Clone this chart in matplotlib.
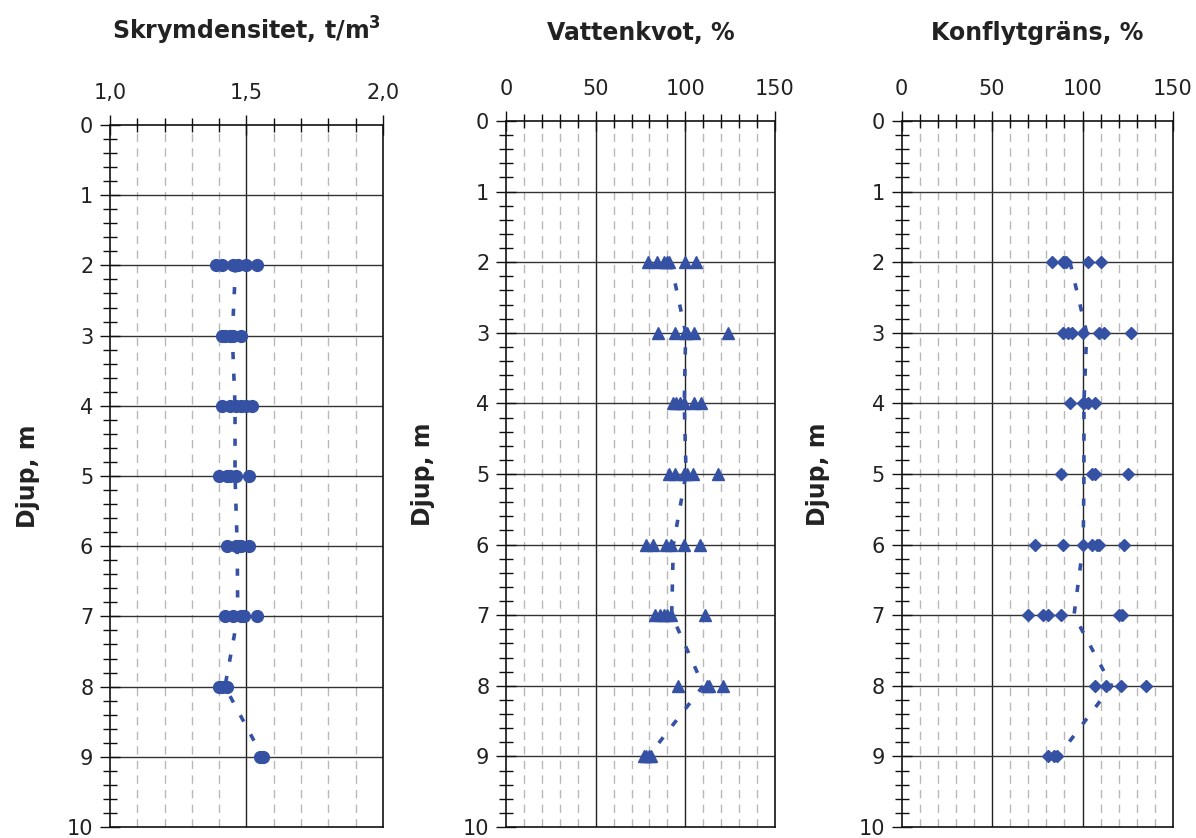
import matplotlib
matplotlib.use("Agg")
import matplotlib.pyplot as plt
from matplotlib.ticker import MultipleLocator, FuncFormatter

plt.rcParams["font.family"] = ["DejaVu Sans"]

# depth (m) of each sample level
depths = [2, 3, 4, 5, 6, 7, 8, 9]

# Skrymdensitet, t/m3 (one list per depth)
density = [
    [1.39, 1.41, 1.45, 1.47, 1.50, 1.54],
    [1.41, 1.42, 1.44, 1.45, 1.48],
    [1.41, 1.44, 1.46, 1.48, 1.50, 1.52],
    [1.40, 1.43, 1.44, 1.46, 1.51],
    [1.43, 1.46, 1.47, 1.48, 1.51],
    [1.42, 1.45, 1.48, 1.49, 1.54],
    [1.40, 1.41, 1.43],
    [1.55, 1.56],
]
density_trend = [1.46, 1.448, 1.458, 1.458, 1.466, 1.468, 1.421, 1.559]

# Vattenkvot, %
water = [
    [79, 84, 88, 90, 91, 100, 106],
    [85, 94, 100, 101, 105, 124],
    [93, 95, 97, 99, 105, 109],
    [91, 94, 99, 101, 104, 118],
    [78, 82, 89, 92, 99, 108],
    [83, 86, 88, 90, 92, 111],
    [96, 112, 113, 121],
    [77, 78, 80, 81],
]
water_trend = [91.8, 100.2, 99.4, 100.4, 93.3, 92.4, 110.0, 79.4]

# Konflytgräns, %
liquid = [
    [83, 89, 90, 91, 103, 110],
    [89, 92, 94, 100, 109, 112, 127],
    [93, 100, 101, 103, 107],
    [88, 105, 107, 125],
    [74, 89, 100, 105, 108, 109, 123],
    [70, 78, 81, 88, 120, 122],
    [107, 113, 121, 135],
    [81, 84, 86],
]
liquid_trend = [93.1, 102.3, 100.8, 100.8, 100.4, 95.3, 116.1, 86.6]

blue = "#3551A4"
W, H = 1196, 838

panels = [
    dict(title="Skrymdensitet, t/m$^\\mathbf{3}$", values=density, trend=density_trend,
         xlim=(1.0, 2.0), major=0.5, minor=0.1, marker="o", ms=8.5,
         fmt=lambda v, p: f"{v:.1f}".replace(".", ","),
         px=(110, 383, 125, 827), ylab_x=-0.256),
    dict(title="Vattenkvot, %", values=water, trend=water_trend,
         xlim=(0, 150), major=50, minor=10, marker="^", ms=8.5,
         fmt=lambda v, p: f"{v:.0f}",
         px=(506, 775, 121, 827), ylab_x=-0.264),
    dict(title="Konflytgräns, %", values=liquid, trend=liquid_trend,
         xlim=(0, 150), major=50, minor=10, marker="D", ms=6.5,
         fmt=lambda v, p: f"{v:.0f}",
         px=(901.5, 1173, 121, 827), ylab_x=-0.263),
]

fig = plt.figure(figsize=(W / 100, H / 100), dpi=100)

for p in panels:
    x0, x1, y0, y1 = p["px"]
    ax = fig.add_axes([x0 / W, 1 - y1 / H, (x1 - x0) / W, (y1 - y0) / H])
    ax.set_xlim(*p["xlim"])
    ax.set_ylim(10, 0)

    # grid: dashed light lines at the minor x positions, solid at majors
    lo, hi = p["xlim"]
    n = int(round((hi - lo) / p["minor"]))
    step = int(round(p["major"] / p["minor"]))
    for k in range(1, n):
        xv = lo + k * p["minor"]
        if k % step == 0:
            ax.axvline(xv, color="#222222", lw=1.0, zorder=1)
        else:
            ax.axvline(xv, color="#b8b8b8", lw=1.0, ls=(0, (6, 4.5)), zorder=1)
    for yv in range(1, 10):
        ax.axhline(yv, color="#333333", lw=1.0, zorder=1)

    for d, vals in zip(depths, p["values"]):
        ax.plot(vals, [d] * len(vals), ls="none", marker=p["marker"], ms=p["ms"],
                color=blue, mec=blue, zorder=3)
    ax.plot(p["trend"], depths, ls=(0, (2.0, 4.0)), lw=2.6, color=blue, zorder=2)

    ax.xaxis.tick_top()
    ax.xaxis.set_major_locator(MultipleLocator(p["major"]))
    ax.xaxis.set_minor_locator(MultipleLocator(p["minor"]))
    ax.xaxis.set_major_formatter(FuncFormatter(p["fmt"]))
    ax.yaxis.set_major_locator(MultipleLocator(1))
    ax.yaxis.set_minor_locator(MultipleLocator(0.2))
    ax.tick_params(which="major", direction="inout", length=14, width=1.0,
                   labelsize=15, color="#111111", labelcolor="#222222")
    ax.tick_params(which="minor", direction="inout", length=10, width=1.0,
                   color="#111111")
    ax.tick_params(axis="x", which="both", top=True, bottom=False, pad=9)
    ax.tick_params(axis="y", which="both", right=False, pad=5)
    for s in ax.spines.values():
        s.set_color("#111111")
        s.set_linewidth(1.2)

    fig.text((x0 + x1) / 2 / W, 1 - 40 / H, p["title"], ha="center", va="baseline",
             fontsize=17, fontweight="bold", color="#222222")
    ax.set_ylabel("Djup, m", fontsize=17, fontweight="bold", color="#222222")
    ax.yaxis.set_label_coords(p["ylab_x"], 0.5)

fig.savefig("out.png", dpi=100)
